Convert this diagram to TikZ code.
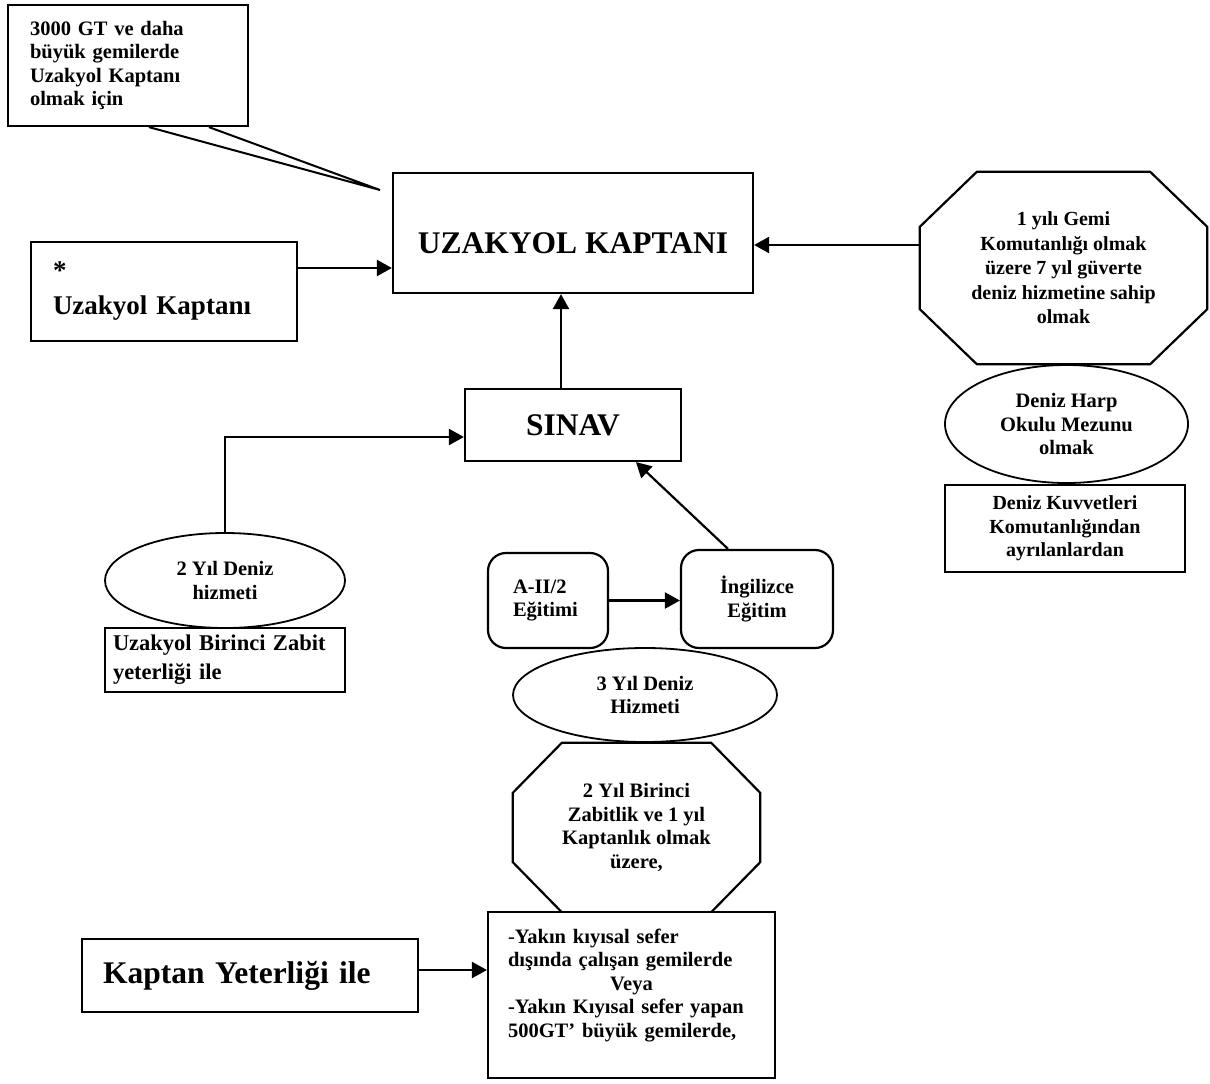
\documentclass[tikz,border=0pt]{standalone}
\usepackage{fontspec}
\setmainfont{Liberation Serif}
\usetikzlibrary{arrows.meta,shapes.geometric}

\newcommand{\SmallText}{\bfseries\fontsize{20.5}{23.5}\selectfont}
\newcommand{\BigText}{\bfseries\fontsize{31.5}{36}\selectfont}
% octagon round a node: name, cut along x, cut along y
\newcommand{\OctFrame}[3]{%
  \draw[line width=2.2pt] ([xshift=#2]#1.north west) -- ([xshift=-#2]#1.north east)
    -- ([yshift=-#3]#1.north east) -- ([yshift=#3]#1.south east)
    -- ([xshift=-#2]#1.south east) -- ([xshift=#2]#1.south west)
    -- ([yshift=#3]#1.south west) -- ([yshift=-#3]#1.north west) -- cycle;}

\begin{document}
\begin{tikzpicture}[x=1pt,y=-1pt]
    \tikzset{BaseStyle/.style = {draw, line width=2.2pt, fill=white, inner sep=0pt, font=\SmallText}}
    \tikzset{BoxStyle/.style = {BaseStyle, rectangle}}
    \tikzset{OvalStyle/.style = {BaseStyle, ellipse, line width=1.8pt, align=center}}
    \tikzset{OctStyle/.style = {rectangle, inner sep=0pt, font=\SmallText, align=center}}
    \tikzset{RoundStyle/.style = {BaseStyle, rounded corners=18pt}}
    \tikzset{EdgeStyle/.style = {line width=2.2pt, -{Triangle[length=15pt,width=16pt]}}}
    \useasboundingbox (0,0) rectangle (1210,1084);
    % callout
    \node[BoxStyle, minimum width=240pt, minimum height=121pt, text width=196pt,
          inner xsep=22pt, align=left] (call) at (128,65.5)
          {3000 GT ve daha\\ büyük gemilerde\\ Uzakyol Kaptanı\\ olmak için};
    \coordinate (tip) at (380,190);
    \draw[line width=2pt] ([xshift=142pt]call.south west) -- (tip) -- ([xshift=202pt]call.south west);
    % top row
    \node[BoxStyle, minimum width=360pt, minimum height=120pt, font=\BigText,
          text height=41pt] (main) at (573,233) {UZAKYOL KAPTANI};
    \node[BoxStyle, minimum width=266pt, minimum height=99pt, text width=222pt,
          inner xsep=22pt, align=left, font=\bfseries\fontsize{27}{31}\selectfont]
          (star) at (164,291.5) {*\\[4pt]Uzakyol Kaptanı};
    \node[OctStyle, minimum width=287pt, minimum height=192pt,
          font=\bfseries\fontsize{20}{24.5}\selectfont] (gemi) at (1063.5,268)
          {1 yılı Gemi\\ Komutanlığı olmak\\ üzere 7 yıl güverte\\ deniz hizmetine sahip\\ olmak};
    \OctFrame{gemi}{57pt}{55pt}
    \node[OvalStyle, minimum width=243pt, minimum height=118pt,
          font=\bfseries\fontsize{20.5}{23.5}\selectfont] (harp) at (1066.5,424)
          {Deniz Harp\\ Okulu Mezunu\\ olmak};
    \node[BoxStyle, minimum width=240pt, minimum height=87pt, align=center,
          font=\bfseries\fontsize{20}{23.5}\selectfont] (kuvvet) at (1065,528.5)
          {Deniz Kuvvetleri\\ Komutanlığından\\ ayrılanlardan};
    % middle
    \node[BoxStyle, minimum width=216pt, minimum height=72pt, font=\BigText] (sinav) at (573,425) {SINAV};
    \node[OvalStyle, minimum width=240pt, minimum height=95pt] (deniz2) at (225,580.5) {2 Yıl Deniz\\ hizmeti};
    \node[BoxStyle, minimum width=240pt, minimum height=64pt, text width=224pt, inner xsep=8pt,
          align=left, font=\bfseries\fontsize{22.5}{29}\selectfont] (birinci) at (225,660)
          {Uzakyol Birinci Zabit\\ yeterliği ile};
    \node[RoundStyle, minimum width=120pt, minimum height=95pt, text width=70pt,
          inner xsep=25pt, align=left] (a2) at (548,600.5) {A-II/2\\ Eğitimi};
    \node[RoundStyle, minimum width=152pt, minimum height=98pt, align=center] (ingilizce) at (757,599) {İngilizce\\ Eğitim};
    % bottom
    \node[OvalStyle, minimum width=264pt, minimum height=94pt] (deniz3) at (645,695) {3 Yıl Deniz\\ Hizmeti};
    \node[OctStyle, minimum width=247pt, minimum height=169pt] (zabit) at (636.5,827.5)
          {2 Yıl Birinci\\ Zabitlik ve 1 yıl\\ Kaptanlık olmak\\ üzere,};
    \OctFrame{zabit}{49pt}{50pt}
    \node[BoxStyle, minimum width=287pt, minimum height=166pt, text width=247pt,
          inner xsep=20pt, align=left] (yakin) at (631.5,995)
          {{\mdseries -}Yakın kıyısal sefer\\ dışında çalışan gemilerde\\
           \makebox[\hsize]{Veya}\\ -Yakın Kıyısal sefer yapan\\
           500GT’ büyük gemilerde,\\ \mbox{}};
    \node[BoxStyle, minimum width=336pt, minimum height=73pt, text width=294pt,
          inner xsep=21pt, align=left, font=\BigText] (kaptan) at (250,975.5) {Kaptan Yeterliği ile};
    % arrows
    \draw[EdgeStyle] ([yshift=23.5pt]star.east) -- ([yshift=-35pt]main.west);
    \draw[EdgeStyle] ([yshift=23pt]gemi.west) -- ([yshift=-12pt]main.east);
    \draw[EdgeStyle] ([xshift=-12pt]sinav.north) -- ([xshift=-12pt]main.south);
    \draw[EdgeStyle] (deniz2.north) |- ([yshift=-12pt]sinav.west);
    \draw[EdgeStyle] (a2.east) -- (a2.east -| ingilizce.west);
    \draw[EdgeStyle] ([xshift=-29pt]ingilizce.north) -- ([xshift=63pt]sinav.south);
    \draw[EdgeStyle] ([yshift=5.5pt]kaptan.east) -- ([yshift=25pt]yakin.west);
\end{tikzpicture}
\end{document}
